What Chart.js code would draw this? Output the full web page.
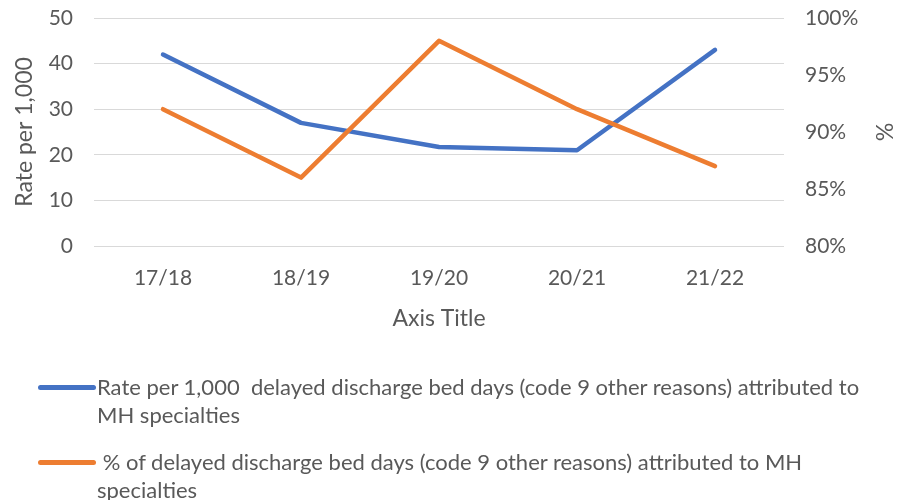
<!DOCTYPE html>
<html><head><meta charset="utf-8">
<script src="https://cdn.jsdelivr.net/npm/chart.js@4/dist/chart.umd.min.js"></script>
<style>
html,body{margin:0;padding:0;background:#fff;}
#wrap{position:relative;width:897px;height:500px;overflow:hidden;}
canvas{position:absolute;left:0;top:0;}
.leg{position:absolute;font-family:Lato,sans-serif;font-size:22px;color:#595959;white-space:pre;line-height:28px;}
.sw{position:absolute;height:5px;border-radius:3px;}
</style></head><body>
<div id="wrap">
<canvas id="c" width="897" height="500"></canvas>
<div class="sw" style="left:38px;top:385px;width:58px;background:#4472C4"></div>
<div class="leg" style="left:97px;top:373px;">Rate per 1,000  delayed discharge bed days (code 9 other reasons) attributed to
MH specialties</div>
<div class="sw" style="left:38px;top:460px;width:58px;background:#ED7D31"></div>
<div class="leg" style="left:97px;top:448px;"> % of delayed discharge bed days (code 9 other reasons) attributed to MH
specialties</div>
</div>
<script>
const categories = ['17/18','18/19','19/20','20/21','21/22'];
const rateValues = [42, 27, 21.7, 21, 43];
const pctValues = [92, 86, 98, 92, 87];
const leftTicks = [0,10,20,30,40,50];
const rightTicks = [80,85,90,95,100];

const font = {family:'Lato, sans-serif', size:21};
const tfont = {family:'Lato, sans-serif', size:23};
const col = '#595959';
new Chart(document.getElementById('c'), {
  type:'line',
  data:{labels:categories, datasets:[
    {label:'Rate per 1,000  delayed discharge bed days (code 9 other reasons) attributed to MH specialties', data:rateValues, borderColor:'#4472C4', backgroundColor:'#4472C4', borderWidth:4.5, pointRadius:0, yAxisID:'y', order:1, borderCapStyle:'round', borderJoinStyle:'round', tension:0},
    {label:'% of delayed discharge bed days (code 9 other reasons) attributed to MH specialties', data:pctValues, borderColor:'#ED7D31', backgroundColor:'#ED7D31', borderWidth:4.5, pointRadius:0, yAxisID:'y1', order:0, borderCapStyle:'round', borderJoinStyle:'round', tension:0}
  ]},
  options:{
    responsive:false, animation:false,
    layout:{padding:{top:18, bottom:165, left:0, right:0}},
    plugins:{legend:{display:false}, tooltip:{enabled:false}},
    scales:{
      x:{offset:true, grid:{display:false, drawTicks:false}, border:{display:false},
         ticks:{font, color:col, padding:20},
         title:{display:true, text:'Axis Title', font:tfont, color:col, padding:{top:8,bottom:3}},
         afterFit:s=>{s.height=89;}},
      y:{position:'left', min:0, max:50, afterBuildTicks:s=>{s.ticks=leftTicks.map(v=>({value:v}));},
         grid:{color:'#d9d9d9', lineWidth:1, drawTicks:false}, border:{display:false},
         ticks:{font, color:col, padding:21},
         title:{display:true, text:'Rate per 1,000', font:tfont, color:col, padding:{top:11,bottom:0}},
         afterFit:s=>{s.width=94; s.paddingTop=0; s.paddingBottom=0;}},
      y1:{position:'right', min:80, max:100, afterBuildTicks:s=>{s.ticks=rightTicks.map(v=>({value:v}));},
         grid:{display:false, drawTicks:false}, border:{display:false},
         ticks:{font, color:col, padding:21, callback:v=>v+'%'},
         title:{display:true, text:'%', font:tfont, color:col, padding:{top:0,bottom:0}},
         afterFit:s=>{s.width=113; s.paddingTop=0; s.paddingBottom=0;}}
    }
  }
});
</script>
</body></html>
